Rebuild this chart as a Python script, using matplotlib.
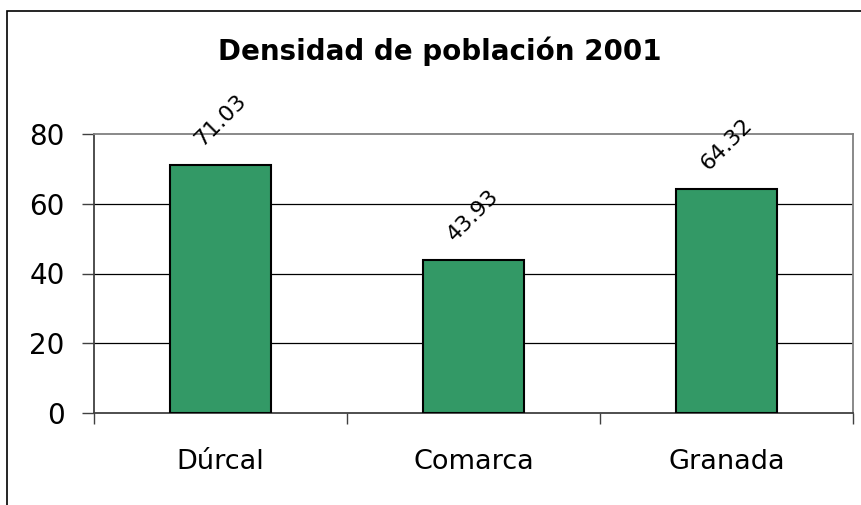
import matplotlib.pyplot as plt
from matplotlib.patches import Rectangle

# data
categories = ["Dúrcal", "Comarca", "Granada"]
densidad = [71.03, 43.93, 64.32]
yticks = [0, 20, 40, 60, 80]

plt.rcParams["font.family"] = ["DejaVu Sans"]

fig = plt.figure(figsize=(8.61, 5.05), dpi=100)
W, H = 861, 505
ax = fig.add_axes([94 / W, 1 - 413 / H, (853 - 94) / W, (413 - 134) / H])

pos = list(range(len(categories)))
ax.bar(pos, densidad, width=0.4, color="#339966", edgecolor="black", linewidth=1.5, zorder=3)

for x, v in zip(pos, densidad):
    ax.annotate(f"{v:.2f}", (x, v), xytext=(0, 11), textcoords="offset points",
                rotation=45, ha="center", va="bottom", fontsize=16)

ax.set_xlim(-0.5, len(categories) - 0.5)
ax.set_ylim(0, 80)
ax.set_yticks(yticks)
ax.set_yticklabels([str(t) for t in yticks], fontsize=20)
ax.tick_params(axis="y", length=9, width=1, color="#404040", pad=12)

# category labels centred, ticks on the boundaries
ax.set_xticks(pos)
ax.set_xticklabels(categories, fontsize=19.5)
ax.tick_params(axis="x", which="major", length=0, pad=26)
ax.set_xticks([p - 0.5 for p in pos] + [len(categories) - 0.5], minor=True)
ax.tick_params(axis="x", which="minor", length=8, width=1, color="#404040")

for t in yticks[1:-1]:
    ax.axhline(t, color="black", linewidth=0.9, zorder=1)

ax.spines["top"].set_color("#808080")
ax.spines["right"].set_color("#808080")
ax.spines["left"].set_color("#404040")
ax.spines["bottom"].set_color("#404040")
for s in ax.spines.values():
    s.set_linewidth(1.3)

fig.text(440 / W, 1 - 51 / H, "Densidad de población 2001", ha="center", va="center",
         fontsize=20, fontweight="bold")

# outer chart border (right and bottom edges fall outside the picture)
fig.patches.append(Rectangle((7 / W, -0.1), 1.2, 1 - 11 / H + 0.1, transform=fig.transFigure,
                             fill=False, edgecolor="black", linewidth=1.2))

fig.savefig("out.png", dpi=100)
